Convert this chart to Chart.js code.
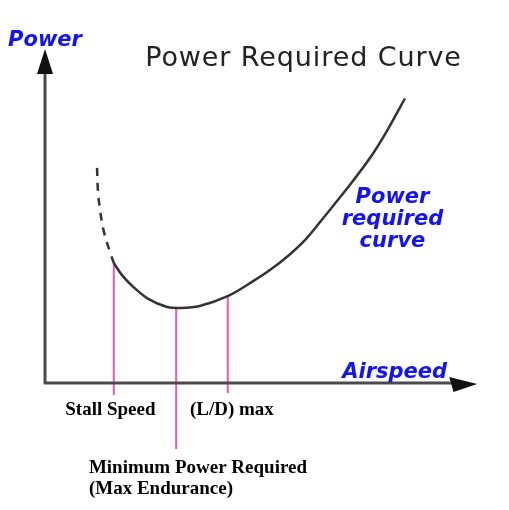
<!DOCTYPE html>
<html>
<head>
<meta charset="utf-8">
<script src="https://cdn.jsdelivr.net/npm/chart.js@4/dist/chart.umd.min.js"></script>
<style>
  body { margin: 0; background: #fff; }
  #wrap { width: 509px; height: 510px; }
</style>
</head>
<body>
<div id="wrap"><canvas id="chart"></canvas></div>
<script>
// airspeed / power in arbitrary units (axis origin = 0,0)
const dashedSpeed = [12.1, 12.3, 12.8, 13.7, 15.1, 16.0];
const dashedPower = [64.2, 57.6, 51.6, 45.1, 39.1, 35.8];
const curveSpeed = [16.0, 17.9, 20.5, 24.0, 28.4, 31.4, 36.0, 42.6, 48.4, 52.3, 56.5, 60.5, 64.0, 67.9, 71.6, 75.6, 79.5, 83.7];
const curvePower = [35.8, 32.2, 28.7, 25.1, 22.7, 22.4, 23.0, 26.0, 30.4, 33.7, 37.9, 42.7, 48.1, 54.3, 60.3, 67.2, 75.2, 84.9];
// marker lines: speed, top (on curve), bottom
const markSpeed = [16.0, 30.5, 42.5];
const markTop = [35.8, 22.4, 25.7];
const markBottom = [-3.6, -19.7, -3.0];

const blue = "#1414f0";
const pink = "#f25aab";
const axisColor = "#4a4a4e";

function pts(xs, ys) {
    return xs.map((x, i) => ({x: x, y: ys[i]}));
}

let datasets = [
    {data: pts(dashedSpeed, dashedPower), borderColor: "#333", borderWidth: 2.5, borderDash: [8, 7], tension: 0.4},
    {data: pts(curveSpeed, curvePower), borderColor: "#333", borderWidth: 2.5, tension: 0.35}
];
for (let i = 0; i < markSpeed.length; i++) {
    datasets.push({
        data: [{x: markSpeed[i], y: markTop[i]}, {x: markSpeed[i], y: markBottom[i]}],
        borderColor: pink, borderWidth: 2, order: 5
    });
}

// labels: text, x, y (data units), font, colour, align, letter spacing
const labels = [
    ["Power", 0.0, 100.5, "bold italic 21px 'DejaVu Sans'", blue, "center", 0],
    ["Power Required Curve", 23.3, 94.6, "27px 'DejaVu Sans'", "#222", "left", 0.9],
    ["Power", 80.8, 53.7, "bold italic 21px 'DejaVu Sans'", blue, "center", 0],
    ["required", 80.8, 47.2, "bold italic 21px 'DejaVu Sans'", blue, "center", 0],
    ["curve", 80.8, 40.6, "bold italic 21px 'DejaVu Sans'", blue, "center", 0],
    ["Airspeed", 81.3, 1.5, "bold italic 21px 'DejaVu Sans'", blue, "center", 0],
    ["Stall Speed", 4.7, -9.6, "bold 19px 'Liberation Serif'", "#000", "left", 0],
    ["(L/D) max", 33.7, -9.6, "bold 19px 'Liberation Serif'", "#000", "left", 0],
    ["Minimum Power Required", 10.2, -26.9, "bold 19px 'Liberation Serif'", "#000", "left", 0],
    ["(Max Endurance)", 10.2, -33.1, "bold 19px 'Liberation Serif'", "#000", "left", 0]
];

const decor = {
    id: "decor",
    afterDatasetsDraw(chart) {
        const ctx = chart.ctx;
        const xs = chart.scales.x, ys = chart.scales.y;
        const X = v => xs.getPixelForValue(v), Y = v => ys.getPixelForValue(v);
        ctx.save();
        // axes
        ctx.strokeStyle = axisColor;
        ctx.lineWidth = 3;
        ctx.beginPath();
        ctx.moveTo(X(0), Y(-0.3));
        ctx.lineTo(X(0), Y(93));
        ctx.moveTo(X(-0.3), Y(0));
        ctx.lineTo(X(95), Y(0));
        ctx.stroke();
        ctx.fillStyle = "#111";
        ctx.beginPath();
        ctx.moveTo(X(0), Y(99.7));
        ctx.lineTo(X(0) - 8, Y(92.2));
        ctx.lineTo(X(0) + 8, Y(92.2));
        ctx.closePath();
        ctx.fill();
        ctx.beginPath();
        ctx.moveTo(X(100.5), Y(-0.3));
        ctx.lineTo(X(94), Y(0) - 6);
        ctx.lineTo(X(95), Y(0) + 9);
        ctx.closePath();
        ctx.fill();
        // texts
        ctx.textBaseline = "alphabetic";
        labels.forEach(l => {
            ctx.font = l[3];
            ctx.fillStyle = l[4];
            ctx.textAlign = l[5];
            ctx.letterSpacing = l[6] + "px";
            ctx.fillText(l[0], X(l[1]), Y(l[2]));
        });
        ctx.restore();
    }
};

new Chart(document.getElementById("chart"), {
    type: "scatter",
    data: {datasets: datasets},
    options: {
        responsive: true,
        maintainAspectRatio: false,
        animation: false,
        showLine: true,
        layout: {padding: 0},
        elements: {point: {radius: 0}},
        scales: {
            x: {type: "linear", display: false, min: -10.47, max: 107.9},
            y: {type: "linear", display: false, min: -37.9, max: 114.3}
        },
        plugins: {legend: {display: false}, tooltip: {enabled: false}}
    },
    plugins: [decor]
});
</script>
</body>
</html>
